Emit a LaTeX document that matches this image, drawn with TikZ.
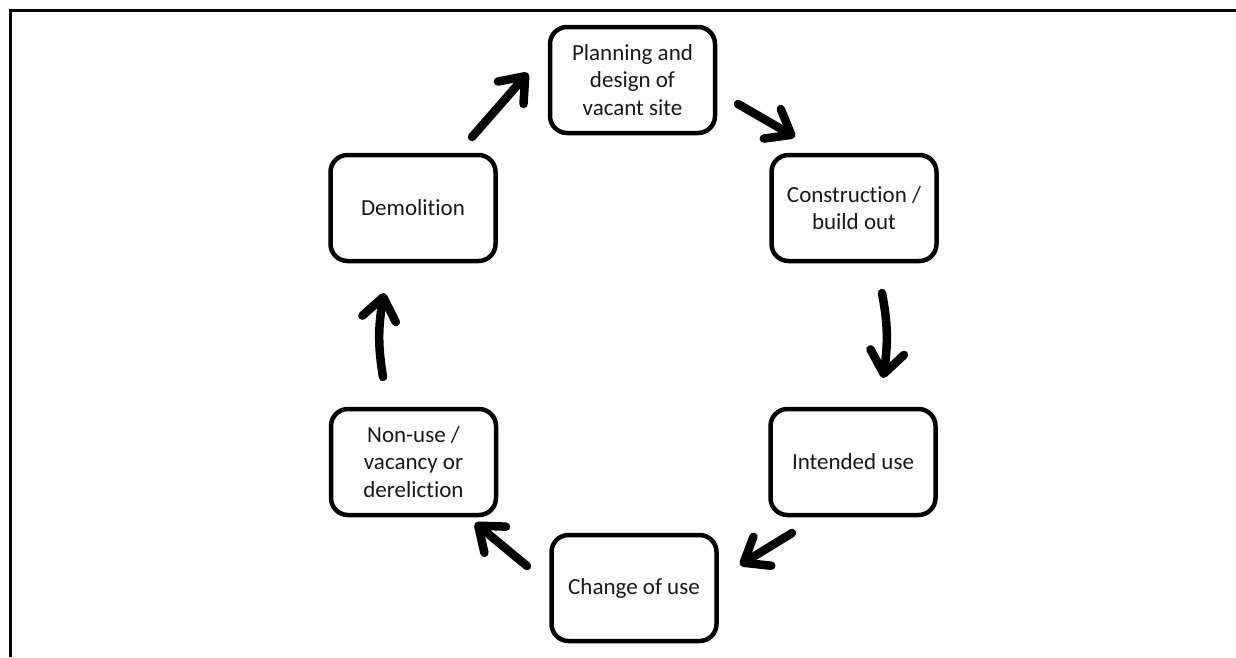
\documentclass[tikz,border=0pt]{standalone}
\usepackage{fontspec}
\setmainfont{Carlito}[Ligatures=NoCommon]
\usetikzlibrary{arrows.meta,bending}
\begin{document}
\begin{tikzpicture}[x=1pt,y=-1pt,
  stagebox/.style={draw=black,line width=4.5pt,rounded corners=17pt,
    minimum width=165pt,minimum height=106pt,align=center,inner sep=2pt,
    font=\fontsize{23pt}{27.5pt}\selectfont,text=black!90},
  cyclearrow/.style={line width=8.5pt,line cap=round,
    -{Straight Barb[length=22pt,width=34pt,round]}}]
\useasboundingbox (0,0) rectangle (1236,657);
% frame (top and left edges only)
\draw[line width=2.2pt] (10.5,657) -- (10.5,10.5) -- (1236,10.5);
% boxes
\node[stagebox] (plan)   at (632.5,80)  {Planning and\\design of\\vacant site};
\node[stagebox] (constr) at (854,208)   {Construction /\\build out};
\node[stagebox] (intend) at (853,462)   {Intended use};
\node[stagebox] (change) at (634,588)   {Change of use};
\node[stagebox] (nonuse) at (413.5,462) {Non-use /\\vacancy or\\dereliction};
\node[stagebox] (demol)  at (413,208)   {Demolition};
% arrow end points
\coordinate (a1s) at (738,104); \coordinate (a1e) at (795,137);
\coordinate (a2s) at (882,293); \coordinate (a2e) at (883,378);
\coordinate (a3s) at (792,533); \coordinate (a3e) at (740,565);
\coordinate (a4s) at (527,566); \coordinate (a4e) at (475,523);
\coordinate (a5s) at (383,377); \coordinate (a5e) at (384,293);
\coordinate (a6s) at (472,137); \coordinate (a6e) at (528,73);
\draw[cyclearrow] (a1s) -- (a1e);
\draw[cyclearrow] (a2s) to[bend left=10] (a2e);
\draw[cyclearrow] (a3s) -- (a3e);
\draw[cyclearrow] (a4s) -- (a4e);
\draw[cyclearrow] (a5s) to[bend left=10] (a5e);
\draw[cyclearrow] (a6s) -- (a6e);
\end{tikzpicture}
\end{document}
